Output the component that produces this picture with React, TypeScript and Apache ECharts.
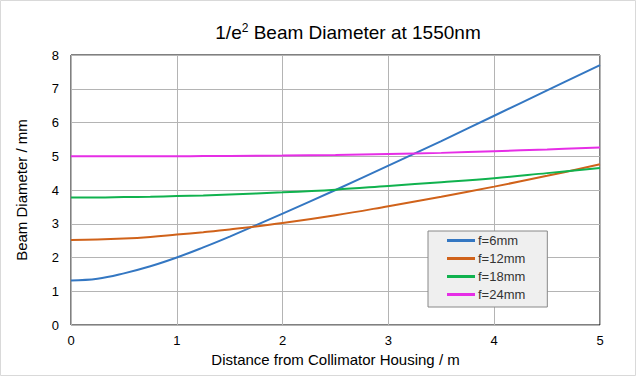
import React, { useEffect, useRef } from "react";
import * as echarts from "echarts";

const distances = [0, 0.25, 0.5, 0.75, 1, 1.25, 1.5, 2, 2.5, 3, 3.5, 4, 4.5, 5];
const f6 = [1.32, 1.37, 1.53, 1.74, 2.0, 2.3, 2.62, 3.3, 4.0, 4.72, 5.45, 6.2, 6.95, 7.7];
const f12 = [2.52, 2.53, 2.56, 2.61, 2.68, 2.75, 2.83, 3.02, 3.25, 3.52, 3.8, 4.1, 4.42, 4.76];
const f18 = [3.78, 3.78, 3.79, 3.8, 3.82, 3.84, 3.87, 3.93, 4.01, 4.12, 4.23, 4.35, 4.5, 4.65];
const f24 = [5.0, 5.0, 5.0, 5.0, 5.0, 5.005, 5.01, 5.02, 5.04, 5.07, 5.1, 5.15, 5.2, 5.26];
const seriesNames = ["f=6mm", "f=12mm", "f=18mm", "f=24mm"];
const seriesColors = ["#3477c2", "#d0621a", "#10b24e", "#e62ee6"];

export default function App() {
  const ref = useRef<HTMLDivElement>(null);
  useEffect(() => {
    if (!ref.current) return;
    const chart = echarts.init(ref.current, null, { renderer: "svg" });
    const font = "'Liberation Sans', Arial, sans-serif";
    const all = [f6, f12, f18, f24];
    chart.setOption({
      animation: false,
      backgroundColor: "#ffffff",
      textStyle: { fontFamily: font },
      title: {
        text: "1/e{sup|2} Beam Diameter at 1550nm",
        left: 343,
        textAlign: "center",
        top: 17,
        textStyle: {
          fontFamily: font,
          fontSize: 19,
          fontWeight: "normal",
          color: "#000",
          rich: {
            sup: { fontSize: 12, verticalAlign: "top", padding: [0, 0, 8, 0], fontFamily: font, color: "#000" },
          },
        },
      },
      graphic: [
        {
          type: "rect",
          shape: { x: 0.5, y: 0.5, width: 635, height: 375 },
          style: { fill: "none", stroke: "#d9d9d9", lineWidth: 1 },
          silent: true,
        },
      ],
      grid: {
        left: 71,
        right: 36,
        top: 55,
        bottom: 51,
        show: true,
        borderColor: "#000",
        borderWidth: 1,
      },
      legend: {
        orient: "vertical",
        left: 428,
        top: 231,
        padding: [3, 22, 6, 19],
        icon: "rect",
        itemWidth: 28,
        itemHeight: 3,
        itemGap: 5,
        backgroundColor: "#efefef",
        borderColor: "#888",
        borderWidth: 1,
        textStyle: { fontFamily: font, fontSize: 13, color: "#333", padding: [0, 0, 0, -2] },
        data: seriesNames,
      },
      xAxis: {
        type: "value",
        min: 0,
        max: 5,
        interval: 1,
        name: "Distance from Collimator Housing / m",
        nameLocation: "middle",
        nameGap: 24,
        nameTextStyle: { fontFamily: font, fontSize: 15, color: "#000" },
        axisLine: { show: false },
        axisTick: { show: false },
        axisLabel: { fontFamily: font, fontSize: 13, color: "#000", margin: 9 },
        splitLine: { lineStyle: { color: "#b4b4b4", width: 1 } },
      },
      yAxis: {
        type: "value",
        min: 0,
        max: 8,
        interval: 1,
        name: "Beam Diameter / mm",
        nameLocation: "middle",
        nameGap: 42,
        nameTextStyle: { fontFamily: font, fontSize: 15, color: "#000" },
        axisLine: { show: false },
        axisTick: { show: false },
        axisLabel: { fontFamily: font, fontSize: 13, color: "#000", margin: 12 },
        splitLine: { lineStyle: { color: "#b4b4b4", width: 1 } },
      },
      series: seriesNames.map((n, i) => ({
        name: n,
        type: "line",
        smooth: 0.4,
        symbol: "none",
        color: seriesColors[i],
        lineStyle: { width: 2, color: seriesColors[i] },
        data: distances.map((d, j) => [d, all[i][j]]),
      })),
    });
    return () => chart.dispose();
  }, []);
  return <div ref={ref} style={{ width: 636, height: 376, position: "absolute", left: 0, top: 0 }} />;
}
